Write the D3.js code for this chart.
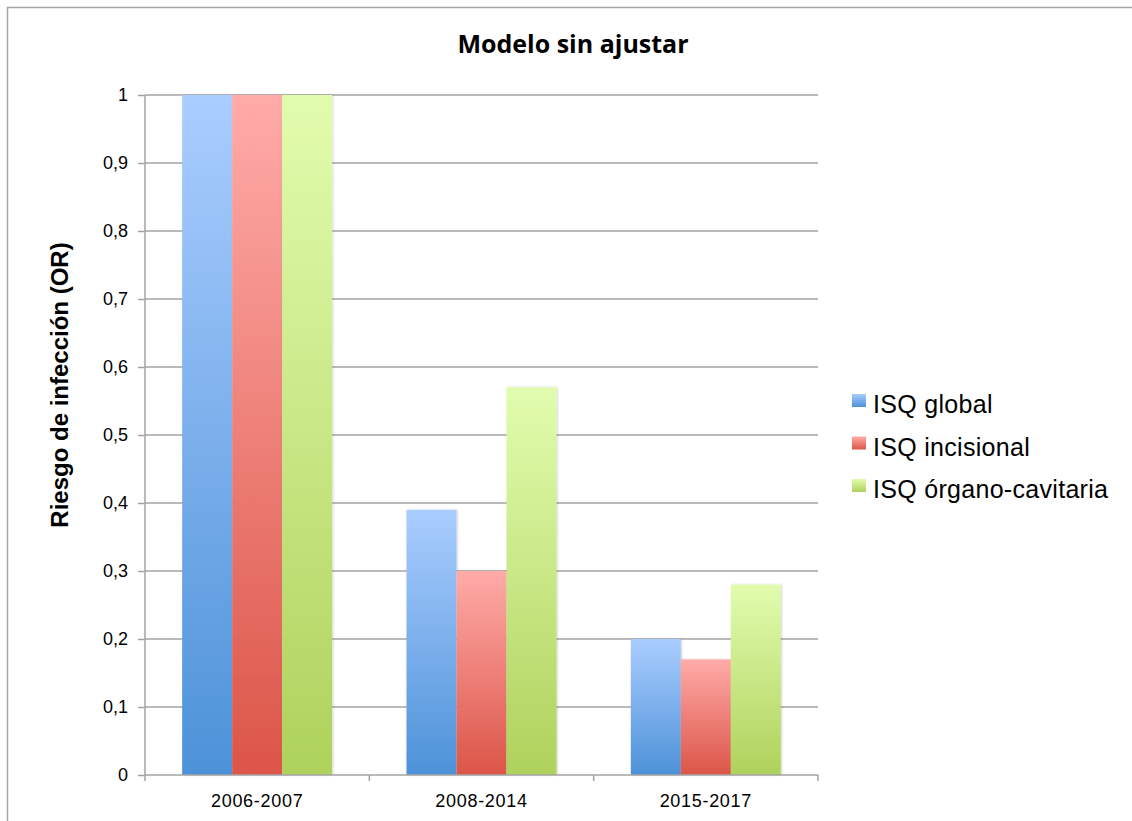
<!DOCTYPE html>
<html>
<head>
<meta charset="utf-8">
<script src="https://cdn.jsdelivr.net/npm/d3@7"></script>
<style>
  html, body { margin: 0; padding: 0; background: #fff; }
  svg { display: block; }
</style>
</head>
<body>
<script>
// Periods and odds ratios for each surgical-site infection type
const periods = ["2006-2007", "2008-2014", "2015-2017"];
const seriesNames = ["ISQ global", "ISQ incisional", "ISQ órgano-cavitaria"];
const isqGlobal = [1, 0.39, 0.2];
const isqIncisional = [1, 0.3, 0.17];
const isqOrganoCavitaria = [1, 0.57, 0.28];
const yTicks = [0, 0.1, 0.2, 0.3, 0.4, 0.5, 0.6, 0.7, 0.8, 0.9, 1];
const chartTitle = "Modelo sin ajustar";
const yTitle = "Riesgo de infección (OR)";

const seriesValues = [isqGlobal, isqIncisional, isqOrganoCavitaria];
const palette = [
  { top: "#aacdff", bottom: "#4d92d8" },
  { top: "#ffaba8", bottom: "#dc5548" },
  { top: "#e2fcae", bottom: "#aed25c" }
];

const W = 1132, H = 821;
const plot = { left: 145, right: 818, top: 95, bottom: 775 };
const sans = "'Liberation Sans', Arial, sans-serif";

const svg = d3.select("body").append("svg").attr("width", W).attr("height", H);
const defs = svg.append("defs");

palette.forEach((c, i) => {
  const g = defs.append("linearGradient").attr("id", "grad" + i)
    .attr("x1", 0).attr("y1", 0).attr("x2", 0).attr("y2", 1);
  g.append("stop").attr("offset", "0%").attr("stop-color", c.top);
  g.append("stop").attr("offset", "100%").attr("stop-color", c.bottom);
});

const shadow = defs.append("filter").attr("id", "shadow")
  .attr("x", "-20%").attr("y", "-5%").attr("width", "140%").attr("height", "110%");
shadow.append("feDropShadow").attr("dx", 1).attr("dy", 0).attr("stdDeviation", 1.2)
  .attr("flood-color", "#000").attr("flood-opacity", 0.18);

// Outer frame (only top and left edges fall inside the view)
svg.append("path").attr("d", `M7.5,${H}V7.5H${W}`)
  .attr("fill", "none").attr("stroke", "#a6a6a6").attr("stroke-width", 1.5);

const x = d3.scaleBand().domain(periods).range([plot.left, plot.right]).paddingInner(0).paddingOuter(0);
const xs = d3.scaleBand().domain(seriesNames).range([0, x.bandwidth()]).paddingInner(0).paddingOuter(0.743);
const y = d3.scaleLinear().domain([0, 1]).range([plot.bottom, plot.top]);

// Horizontal gridlines
svg.append("g").selectAll("line").data(yTicks.filter(d => d > 0)).join("line")
  .attr("x1", plot.left).attr("x2", plot.right)
  .attr("y1", d => y(d)).attr("y2", d => y(d))
  .attr("stroke", "#a3a3a3").attr("stroke-width", 1.5);

// Bars
const groups = svg.append("g").selectAll("g").data(periods).join("g")
  .attr("transform", d => `translate(${x(d)},0)`);
groups.selectAll("rect")
  .data((p, pi) => seriesNames.map((s, si) => ({ s, si, v: seriesValues[si][pi] })))
  .join("rect")
  .attr("x", d => xs(d.s))
  .attr("width", xs.bandwidth())
  .attr("y", d => y(d.v))
  .attr("height", d => y(0) - y(d.v))
  .attr("fill", d => `url(#grad${d.si})`)
  .attr("filter", "url(#shadow)");

// Y axis
const yAxis = d3.axisLeft(y).tickValues(yTicks).tickSize(7).tickPadding(10)
  .tickFormat(d => d === 0 ? "0" : d === 1 ? "1" : d3.format(".1f")(d).replace(".", ","));
const gy = svg.append("g").attr("transform", `translate(${plot.left},0)`).call(yAxis);
gy.select(".domain").attr("stroke", "#a3a3a3").attr("stroke-width", 1.5).attr("d", `M0,${plot.top}V${plot.bottom}`);
gy.selectAll(".tick line").attr("stroke", "#a3a3a3").attr("stroke-width", 1.5);
gy.selectAll(".tick text").attr("font-family", sans)
  .attr("font-size", 18).attr("fill", "#000");

// X axis with boundary ticks between categories
const gx = svg.append("g").attr("transform", `translate(0,${plot.bottom})`);
gx.append("line").attr("x1", plot.left).attr("x2", plot.right)
  .attr("stroke", "#a3a3a3").attr("stroke-width", 1.5);
const bounds = periods.map(p => x(p)).concat([x(periods[periods.length - 1]) + x.bandwidth()]);
gx.selectAll("line.tk").data(bounds).join("line").attr("class", "tk")
  .attr("x1", d => d).attr("x2", d => d).attr("y1", 0).attr("y2", 6)
  .attr("stroke", "#a3a3a3").attr("stroke-width", 1.5);
gx.selectAll("text").data(periods).join("text")
  .attr("x", d => x(d) + x.bandwidth() / 2).attr("y", 32)
  .attr("text-anchor", "middle")
  .attr("font-family", sans).attr("font-size", 18).attr("letter-spacing", 0.7)
  .attr("fill", "#000").text(d => d);

// Title
svg.append("text").attr("x", 573).attr("y", 53).attr("text-anchor", "middle")
  .attr("font-family", "Open Sans, sans-serif").attr("font-weight", 700)
  .attr("font-size", 25).attr("fill", "#000").text(chartTitle);

// Y axis title
svg.append("text").attr("transform", `translate(68,385) rotate(-90)`)
  .attr("text-anchor", "middle")
  .attr("font-family", sans).attr("font-weight", 700)
  .attr("font-size", 24).attr("fill", "#000").text(yTitle);

// Legend
const legend = svg.append("g").attr("transform", "translate(852,394)");
const items = legend.selectAll("g").data(seriesNames).join("g")
  .attr("transform", (d, i) => `translate(0,${i * 42.5})`);
items.append("rect").attr("width", 14).attr("height", 13)
  .attr("fill", (d, i) => `url(#grad${i})`);
items.append("text").attr("x", 21).attr("y", 19)
  .attr("font-family", sans).attr("font-size", 25).attr("letter-spacing", 0.3)
  .attr("fill", "#000").text(d => d);
</script>
</body>
</html>
